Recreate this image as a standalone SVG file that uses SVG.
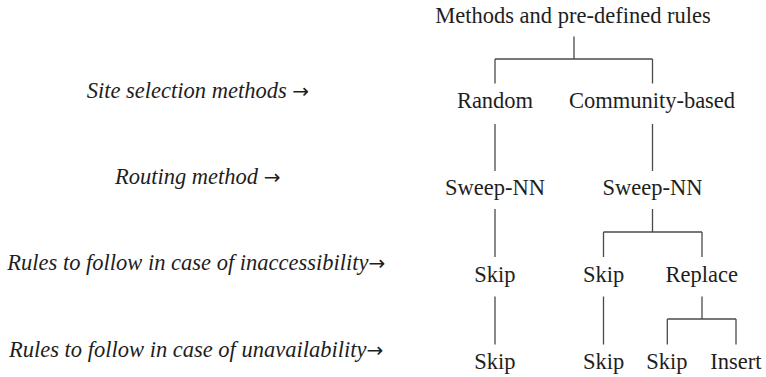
<svg xmlns="http://www.w3.org/2000/svg" width="766" height="377" viewBox="0 0 766 377">
<style>
.c line{stroke:#4a4a4a;stroke-width:1.3;fill:none}
</style>
<rect width="766" height="377" fill="#fff"/>
<g id="labels">
<text x="86.7" y="98" font-family="Liberation Serif" font-style="italic" font-size="22.5" fill="#1e1e1e">Site selection methods <tspan font-family="DejaVu Sans" font-style="normal" font-size="20">→</tspan></text>
<text x="115" y="184" font-family="Liberation Serif" font-style="italic" font-size="22.5" fill="#1e1e1e">Routing method <tspan font-family="DejaVu Sans" font-style="normal" font-size="20">→</tspan></text>
<text x="7.3" y="270" font-family="Liberation Serif" font-style="italic" font-size="22.5" fill="#1e1e1e">Rules to follow in case of inaccessibility<tspan font-family="DejaVu Sans" font-style="normal" font-size="20">→</tspan></text>
<text x="9" y="357" font-family="Liberation Serif" font-style="italic" font-size="22.5" fill="#1e1e1e">Rules to follow in case of unavailability<tspan font-family="DejaVu Sans" font-style="normal" font-size="20">→</tspan></text>
</g>
<g class="c" id="connectors">
<line x1="574" y1="36.5" x2="574" y2="59"/>
<line x1="495" y1="59" x2="652.5" y2="59"/>
<line x1="495" y1="59" x2="495" y2="83.5"/>
<line x1="652.5" y1="59" x2="652.5" y2="83.5"/>
<line x1="495" y1="124" x2="495" y2="171"/>
<line x1="652.5" y1="124" x2="652.5" y2="171"/>
<line x1="495" y1="209" x2="495" y2="257"/>
<line x1="652.5" y1="209" x2="652.5" y2="232"/>
<line x1="603.5" y1="232" x2="702" y2="232"/>
<line x1="603.5" y1="232" x2="603.5" y2="257"/>
<line x1="702" y1="232" x2="702" y2="257"/>
<line x1="495" y1="296.5" x2="495" y2="344.5"/>
<line x1="603.5" y1="296.5" x2="603.5" y2="344.5"/>
<line x1="702" y1="296.5" x2="702" y2="319"/>
<line x1="667.3" y1="319" x2="736" y2="319"/>
<line x1="667.3" y1="319" x2="667.3" y2="344.5"/>
<line x1="736" y1="319" x2="736" y2="344.5"/>
</g>
<g id="root"><text x="573" y="22.5" text-anchor="middle" font-family="Liberation Serif" font-size="22.5" fill="#1e1e1e">Methods and pre-defined rules</text></g>
<g id="random"><text x="495" y="108" text-anchor="middle" font-family="Liberation Serif" font-size="22.5" fill="#1e1e1e">Random</text></g>
<g id="community"><text x="652" y="108" text-anchor="middle" font-family="Liberation Serif" font-size="22.5" fill="#1e1e1e">Community-based</text></g>
<g id="sweep1"><text x="495" y="195" text-anchor="middle" font-family="Liberation Serif" font-size="22.5" fill="#1e1e1e">Sweep-NN</text></g>
<g id="sweep2"><text x="652.5" y="195" text-anchor="middle" font-family="Liberation Serif" font-size="22.5" fill="#1e1e1e">Sweep-NN</text></g>
<g id="skip1"><text x="495" y="282" text-anchor="middle" font-family="Liberation Serif" font-size="22.5" fill="#1e1e1e">Skip</text></g>
<g id="skip2"><text x="603.7" y="282" text-anchor="middle" font-family="Liberation Serif" font-size="22.5" fill="#1e1e1e">Skip</text></g>
<g id="replace"><text x="701.7" y="282" text-anchor="middle" font-family="Liberation Serif" font-size="22.5" fill="#1e1e1e">Replace</text></g>
<g id="skip3"><text x="495" y="369" text-anchor="middle" font-family="Liberation Serif" font-size="22.5" fill="#1e1e1e">Skip</text></g>
<g id="skip4"><text x="603.7" y="369" text-anchor="middle" font-family="Liberation Serif" font-size="22.5" fill="#1e1e1e">Skip</text></g>
<g id="skip5"><text x="667" y="369" text-anchor="middle" font-family="Liberation Serif" font-size="22.5" fill="#1e1e1e">Skip</text></g>
<g id="insert"><text x="735.9" y="369" text-anchor="middle" font-family="Liberation Serif" font-size="22.5" fill="#1e1e1e">Insert</text></g>
</svg>
